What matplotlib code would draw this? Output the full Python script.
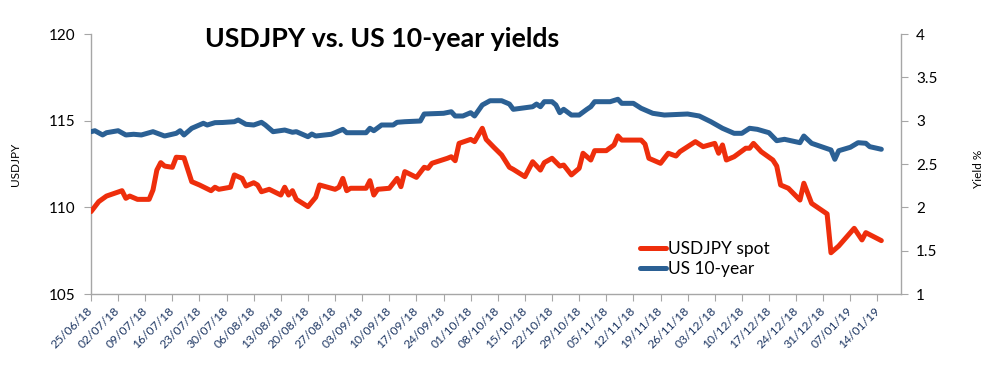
import matplotlib
matplotlib.use("Agg")
import matplotlib.pyplot as plt
import matplotlib.transforms as mtransforms
from matplotlib.lines import Line2D
import pandas as pd

plt.rcParams['font.family'] = ['Lato', 'DejaVu Sans']

# ---------------- data ----------------
usdjpy_dates = ['25/06/18','27/06/18','29/06/18','03/07/18','04/07/18','05/07/18','07/07/18','10/07/18','11/07/18','12/07/18',
                '13/07/18','14/07/18','16/07/18','17/07/18','19/07/18','21/07/18','23/07/18','26/07/18','27/07/18','28/07/18',
                '31/07/18','01/08/18','03/08/18','04/08/18','06/08/18','07/08/18','08/08/18','10/08/18','13/08/18','14/08/18',
                '15/08/18','16/08/18','17/08/18','20/08/18','22/08/18','23/08/18','27/08/18','28/08/18','29/08/18','30/08/18',
                '31/08/18','04/09/18','05/09/18','06/09/18','07/09/18','10/09/18','12/09/18','13/09/18','14/09/18','17/09/18',
                '19/09/18','20/09/18','21/09/18','25/09/18','26/09/18','27/09/18','28/09/18','01/10/18','02/10/18','04/10/18',
                '05/10/18','07/10/18','09/10/18','11/10/18','12/10/18','15/10/18','17/10/18','19/10/18','20/10/18','22/10/18',
                '24/10/18','25/10/18','27/10/18','29/10/18','30/10/18','01/11/18','02/11/18','05/11/18','07/11/18','08/11/18',
                '09/11/18','14/11/18','15/11/18','16/11/18','19/11/18','21/11/18','23/11/18','24/11/18','28/11/18','30/11/18',
                '03/12/18','04/12/18','05/12/18','06/12/18','08/12/18','11/12/18','12/12/18','13/12/18','15/12/18','18/12/18',
                '19/12/18','20/12/18','22/12/18','25/12/18','26/12/18','28/12/18','01/01/19','02/01/19','04/01/19','08/01/19',
                '10/01/19','11/01/19','15/01/19']
usdjpy_spot = [109.75,110.33,110.65,110.96,110.52,110.65,110.46,110.46,111.00,112.15,
               112.58,112.38,112.31,112.89,112.86,111.48,111.29,110.96,111.16,111.04,
               111.16,111.87,111.67,111.23,111.42,111.29,110.90,111.04,110.71,111.16,
               110.71,110.96,110.46,110.04,110.58,111.29,111.04,111.16,111.67,110.96,
               111.10,111.10,111.54,110.71,111.04,111.10,111.67,111.19,112.06,111.73,
               112.31,112.25,112.54,112.83,112.92,112.69,113.69,113.92,113.79,114.56,
               113.92,113.46,113.02,112.31,112.19,111.77,112.63,112.15,112.58,112.83,
               112.38,112.44,111.87,112.25,113.12,112.73,113.27,113.27,113.60,114.12,
               113.88,113.88,113.65,112.83,112.54,113.12,112.96,113.21,113.79,113.50,
               113.69,113.12,113.60,112.73,112.92,113.41,113.41,113.69,113.21,112.73,
               112.38,111.29,111.10,110.42,111.39,110.23,109.62,107.38,107.77,108.79,
               108.12,108.54,108.08]

yield_dates = ['25/06/18','26/06/18','28/06/18','29/06/18','02/07/18','04/07/18','06/07/18','08/07/18','11/07/18','14/07/18',
               '17/07/18','18/07/18','19/07/18','21/07/18','24/07/18','25/07/18','27/07/18','29/07/18','01/08/18','02/08/18',
               '04/08/18','06/08/18','08/08/18','09/08/18','11/08/18','14/08/18','16/08/18','17/08/18','20/08/18','21/08/18',
               '22/08/18','26/08/18','27/08/18','29/08/18','30/08/18','04/09/18','05/09/18','06/09/18','08/09/18','11/09/18',
               '12/09/18','14/09/18','18/09/18','19/09/18','24/09/18','26/09/18','27/09/18','29/09/18','01/10/18','02/10/18',
               '04/10/18','06/10/18','09/10/18','11/10/18','12/10/18','17/10/18','18/10/18','19/10/18','20/10/18','22/10/18',
               '23/10/18','24/10/18','25/10/18','27/10/18','29/10/18','31/10/18','01/11/18','02/11/18','06/11/18','08/11/18',
               '09/11/18','12/11/18','14/11/18','17/11/18','20/11/18','26/11/18','29/11/18','02/12/18','05/12/18','08/12/18',
               '10/12/18','12/12/18','14/12/18','17/12/18','19/12/18','21/12/18','25/12/18','26/12/18','28/12/18','02/01/19',
               '03/01/19','04/01/19','07/01/19','09/01/19','11/01/19','12/01/19','15/01/19']
us_10y_yield = [2.873,2.884,2.835,2.861,2.884,2.835,2.843,2.835,2.873,2.823,
                2.854,2.884,2.835,2.912,2.970,2.950,2.977,2.979,2.988,3.008,
                2.958,2.950,2.981,2.950,2.873,2.892,2.866,2.873,2.815,2.846,
                2.823,2.843,2.861,2.900,2.861,2.861,2.912,2.884,2.950,2.950,
                2.981,2.988,2.996,3.077,3.085,3.103,3.054,3.054,3.092,3.054,
                3.181,3.230,3.230,3.192,3.131,3.161,3.192,3.161,3.219,3.219,
                3.181,3.092,3.131,3.065,3.065,3.131,3.161,3.219,3.219,3.247,
                3.200,3.200,3.143,3.085,3.065,3.077,3.054,2.988,2.912,2.854,
                2.854,2.912,2.900,2.861,2.769,2.785,2.746,2.823,2.739,2.662,
                2.554,2.653,2.693,2.746,2.739,2.700,2.670]

tick_start, tick_end, axis_end = '2018-06-25', '2019-01-14', '2019-01-20'
left_ticks = [105, 110, 115, 120]
right_ticks = [1, 1.5, 2, 2.5, 3, 3.5, 4]

title = 'USDJPY vs. US 10-year yields'
red = '#EE2E0C'
blue = '#2B6094'
grey = '#A6A6A6'
navy = '#1F3864'

# ---------------- plot ----------------
xr = pd.to_datetime(usdjpy_dates, format='%d/%m/%y')
xb = pd.to_datetime(yield_dates, format='%d/%m/%y')

fig = plt.figure(figsize=(9.95, 3.67), dpi=100)
W, H = 995, 367
ax = fig.add_axes([91 / W, 1 - 294 / H, (900.7 - 91) / W, 260 / H])
ax2 = ax.twinx()

ax.plot(xr, usdjpy_spot, color=red, lw=3.6, solid_joinstyle='round', solid_capstyle='round', zorder=3)
ax2.plot(xb, us_10y_yield, color=blue, lw=3.6, solid_joinstyle='round', solid_capstyle='round', zorder=3)

ax.set_xlim(pd.Timestamp(tick_start), pd.Timestamp(axis_end))
ax.set_ylim(105, 120)
ax2.set_ylim(1, 4)
ax.set_yticks(left_ticks)
ax.set_yticklabels([str(t) for t in left_ticks])
ax2.set_yticks(right_ticks)
ax2.set_yticklabels([f'{t:g}' for t in right_ticks])

xt = pd.date_range(tick_start, tick_end, freq='7D')
ax.set_xticks(xt)
labels = ax.set_xticklabels([d.strftime('%d/%m/%y') for d in xt], rotation=45, ha='right',
                            va='center', rotation_mode='anchor', fontsize=8.7, color=navy)
offset = mtransforms.ScaledTranslation(5 / 100, -3 / 100, fig.dpi_scale_trans)
for lab in labels:
    lab.set_transform(lab.get_transform() + offset)

for a in (ax, ax2):
    for s in a.spines.values():
        s.set_color(grey)
        s.set_linewidth(1.0)
    a.spines['top'].set_visible(False)
ax.spines['right'].set_visible(False)
ax2.spines['left'].set_visible(False)
ax2.spines['bottom'].set_visible(False)

ax.tick_params(axis='y', length=5, color=grey, labelsize=11, pad=6, labelcolor='black')
ax.tick_params(axis='x', length=5, color=grey, pad=6)
ax2.tick_params(axis='y', length=5, color=grey, labelsize=11, pad=6, labelcolor='black')

ax.set_ylabel('USDJPY', fontsize=8.5)
ax.yaxis.set_label_coords(-0.087, 0.5)
ax2.set_ylabel('Yield %', fontsize=8.5, rotation=90)
ax2.yaxis.set_label_coords(1.089, 0.48)

fig.text(205 / W, 1 - 47 / H, title, fontsize=19.3, fontweight='bold', ha='left', va='baseline')

handles = [Line2D([], [], color=red, lw=3.6, solid_capstyle='round'),
           Line2D([], [], color=blue, lw=3.6, solid_capstyle='round')]
fig.legend(handles, ['USDJPY spot', 'US 10-year'], loc='upper left',
           bbox_to_anchor=(640 / W, 1 - 241 / H), frameon=False, fontsize=12.5,
           borderpad=0, borderaxespad=0, handlelength=1.5, handletextpad=0.1,
           labelspacing=0.25)

fig.savefig('out.png', dpi=100)
